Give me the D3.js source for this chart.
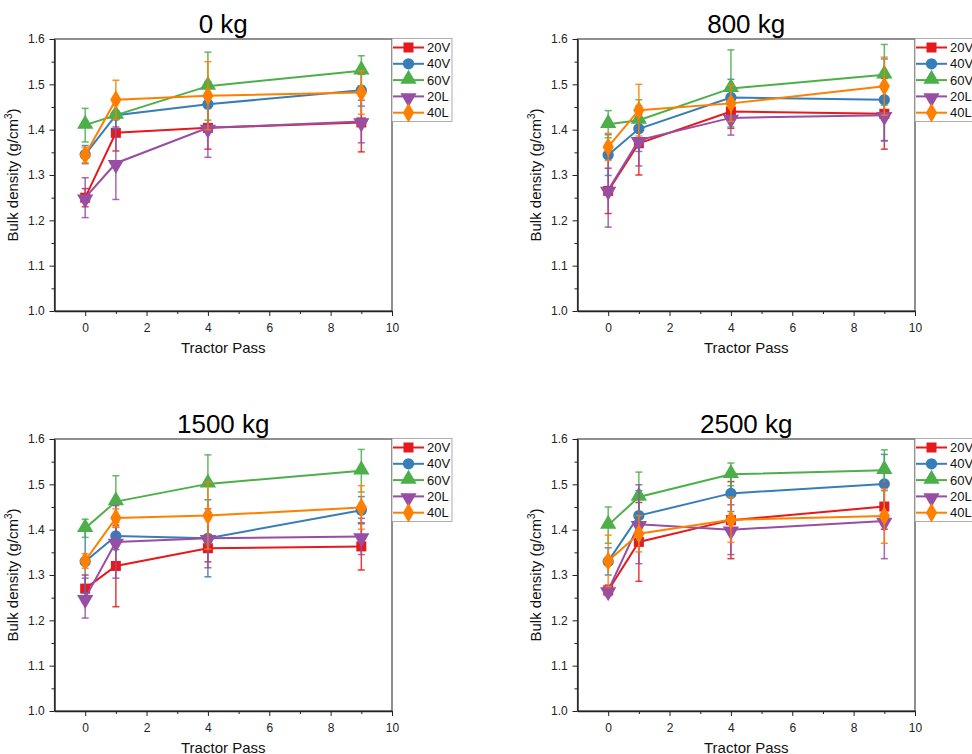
<!DOCTYPE html>
<html><head><meta charset="utf-8">
<script src="https://cdn.jsdelivr.net/npm/d3@7"></script>
<style>body{margin:0;background:#fff;}svg{display:block;font-family:"Liberation Sans",Arial,sans-serif;}</style>
</head><body><svg id="c" width="972" height="754"></svg>
<script>
const passes = [0, 1, 4, 9];
const seriesNames = ["20V", "40V", "60V", "20L", "40L"];
const panelTitles = ["0 kg", "800 kg", "1500 kg", "2500 kg"];
const xTicks = [0, 2, 4, 6, 8, 10];
const yTicks = [1.0, 1.1, 1.2, 1.3, 1.4, 1.5, 1.6];

// means per panel, per series
const mean0 = [[1.250,1.393,1.404,1.416],[1.345,1.432,1.456,1.487],[1.410,1.432,1.496,1.530],[1.250,1.326,1.404,1.418],[1.344,1.466,1.475,1.482]];
const err0  = [[0.020,0.040,0.047,0.065],[0.020,0.030,0.050,0.035],[0.037,0.010,0.075,0.033],[0.044,0.080,0.065,0.047],[0.017,0.043,0.075,0.048]];
const mean800 = [[1.265,1.370,1.440,1.435],[1.344,1.402,1.471,1.466],[1.412,1.421,1.491,1.521],[1.267,1.377,1.426,1.432],[1.362,1.443,1.458,1.496]];
const err800  = [[0.050,0.070,0.037,0.078],[0.045,0.050,0.040,0.090],[0.030,0.045,0.085,0.067],[0.082,0.057,0.038,0.057],[0.030,0.057,0.040,0.064]];
const mean1500 = [[1.270,1.320,1.359,1.363],[1.330,1.386,1.381,1.443],[1.403,1.462,1.501,1.530],[1.249,1.373,1.381,1.385],[1.331,1.426,1.431,1.449]];
const err1500  = [[0.030,0.090,0.030,0.052],[0.070,0.030,0.085,0.030],[0.020,0.057,0.064,0.047],[0.044,0.080,0.065,0.040],[0.016,0.020,0.074,0.048]];
const mean2500 = [[1.266,1.373,1.421,1.451],[1.330,1.431,1.480,1.501],[1.410,1.472,1.522,1.531],[1.266,1.412,1.400,1.419],[1.331,1.391,1.422,1.430]];
const err2500  = [[0.010,0.087,0.085,0.050],[0.030,0.055,0.040,0.065],[0.040,0.055,0.025,0.045],[0.012,0.087,0.055,0.083],[0.057,0.040,0.050,0.060]];

const means = [mean0, mean800, mean1500, mean2500];
const errs = [err0, err800, err1500, err2500];
const colors = ["#e41a1c", "#377eb8", "#4daf4a", "#984ea3", "#ff7f00"];
const symbols = [d3.symbolSquare, d3.symbolCircle, d3.symbolTriangle, "down", d3.symbolDiamond];

const svg = d3.select("#c");
const lefts = [54.5, 577.5], tops = [39, 439];
const W = 337.5, H = 272;

function markerPath(k, size) {
  if (symbols[k] === "down") return d3.symbol(d3.symbolTriangle, size)();
  return d3.symbol(symbols[k], size)();
}
const sizes = [100, 100, 115, 115, 110];

panelTitles.forEach((title, p) => {
  const ox = lefts[p % 2], oy = tops[Math.floor(p / 2)];
  const g = svg.append("g").attr("transform", `translate(${ox},${oy})`);
  const x = d3.scaleLinear().domain([-1, 10]).range([0, W]);
  const y = d3.scaleLinear().domain([1.0, 1.6]).range([H, 0]);

  // frame
  g.append("rect").attr("x", 0).attr("y", 0).attr("width", W).attr("height", H)
    .attr("fill", "none").attr("stroke", "#444").attr("stroke-width", 1.2);

  // x axis
  const xa = g.append("g").attr("transform", `translate(0,${H})`)
    .call(d3.axisBottom(x).tickValues(xTicks).tickFormat(d3.format("d")).tickSize(5).tickSizeOuter(0));
  g.append("g").attr("transform", `translate(0,${H})`)
    .call(d3.axisBottom(x).tickValues([1,3,5,7,9]).tickFormat("").tickSize(3).tickSizeOuter(0))
    .select(".domain").remove();
  // y axis
  const ya = g.append("g")
    .call(d3.axisLeft(y).tickValues(yTicks).tickFormat(d3.format(".1f")).tickSize(5).tickSizeOuter(0));
  g.append("g")
    .call(d3.axisLeft(y).tickValues([1.05,1.15,1.25,1.35,1.45,1.55]).tickFormat("").tickSize(3).tickSizeOuter(0))
    .select(".domain").remove();
  g.selectAll(".domain").attr("stroke", "#222").attr("stroke-width", 1.4);
  g.selectAll(".tick line").attr("stroke", "#222").attr("stroke-width", 1);
  g.selectAll(".tick text").attr("font-size", 12).attr("fill", "#222")
    .attr("font-family", '"Liberation Sans",Arial,sans-serif');
  xa.selectAll(".tick text").attr("dy", "1.05em");
  ya.selectAll(".tick text").attr("dx", "-0.15em");

  // title
  g.append("text").attr("x", W / 2).attr("y", -6.5).attr("text-anchor", "middle")
    .attr("font-size", 26).attr("fill", "#000").text(title);
  // x label
  g.append("text").attr("x", W / 2).attr("y", H + 42).attr("text-anchor", "middle")
    .attr("font-size", 15).attr("fill", "#111").text("Tractor Pass");
  // y label
  const yl = g.append("text").attr("transform", `translate(-36.5,${H / 2}) rotate(-90)`)
    .attr("text-anchor", "middle").attr("font-size", 15).attr("fill", "#111");
  yl.append("tspan").text("Bulk density (g/cm");
  yl.append("tspan").attr("font-size", 10).attr("dy", -6).text("3");
  yl.append("tspan").attr("dy", 6).text(")");

  // series
  seriesNames.forEach((name, k) => {
    const m = means[p][k], e = errs[p][k];
    const pts = passes.map((px, i) => ({ x: px, y: m[i], e: e[i] }));
    const sg = g.append("g");
    // error bars
    pts.forEach(d => {
      const cx = x(d.x);
      sg.append("line").attr("x1", cx).attr("x2", cx).attr("y1", y(d.y + d.e)).attr("y2", y(d.y - d.e))
        .attr("stroke", colors[k]).attr("stroke-width", 1.5).attr("opacity", 0.85);
      [d.y + d.e, d.y - d.e].forEach(v => {
        sg.append("line").attr("x1", cx - 3.5).attr("x2", cx + 3.5).attr("y1", y(v)).attr("y2", y(v))
          .attr("stroke", colors[k]).attr("stroke-width", 1.5).attr("opacity", 0.85);
      });
    });
    sg.append("path").datum(pts)
      .attr("d", d3.line().x(d => x(d.x)).y(d => y(d.y)))
      .attr("fill", "none").attr("stroke", colors[k]).attr("stroke-width", 2);
    sg.selectAll("path.mk").data(pts).join("path").attr("class", "mk")
      .attr("d", markerPath(k, sizes[k]))
      .attr("transform", d => `translate(${x(d.x)},${y(d.y) + (symbols[k] === "down" ? 1.5 : (k === 2 ? -1 : 0))})` + (symbols[k] === "down" ? " rotate(180)" : ""))
      .attr("fill", colors[k]);
  });

  // legend
  const lg = g.append("g").attr("transform", `translate(${W},0)`);
  lg.append("rect").attr("x", 0).attr("y", -0.5).attr("width", 60).attr("height", 83)
    .attr("fill", "#fff").attr("stroke", "#999").attr("stroke-width", 0.8);
  seriesNames.forEach((name, k) => {
    const ry = 8.5 + k * 16.3;
    lg.append("line").attr("x1", 1).attr("x2", 32).attr("y1", ry).attr("y2", ry)
      .attr("stroke", colors[k]).attr("stroke-width", 2);
    lg.append("path").attr("d", markerPath(k, sizes[k]))
      .attr("transform", `translate(16.5,${ry + (symbols[k] === "down" ? 1.5 : (k === 2 ? -1 : 0))})` + (symbols[k] === "down" ? " rotate(180)" : ""))
      .attr("fill", colors[k]);
    lg.append("text").attr("x", 35).attr("y", ry + 4.5).attr("font-size", 13).attr("fill", "#111").text(name);
  });
});
</script></body></html>
